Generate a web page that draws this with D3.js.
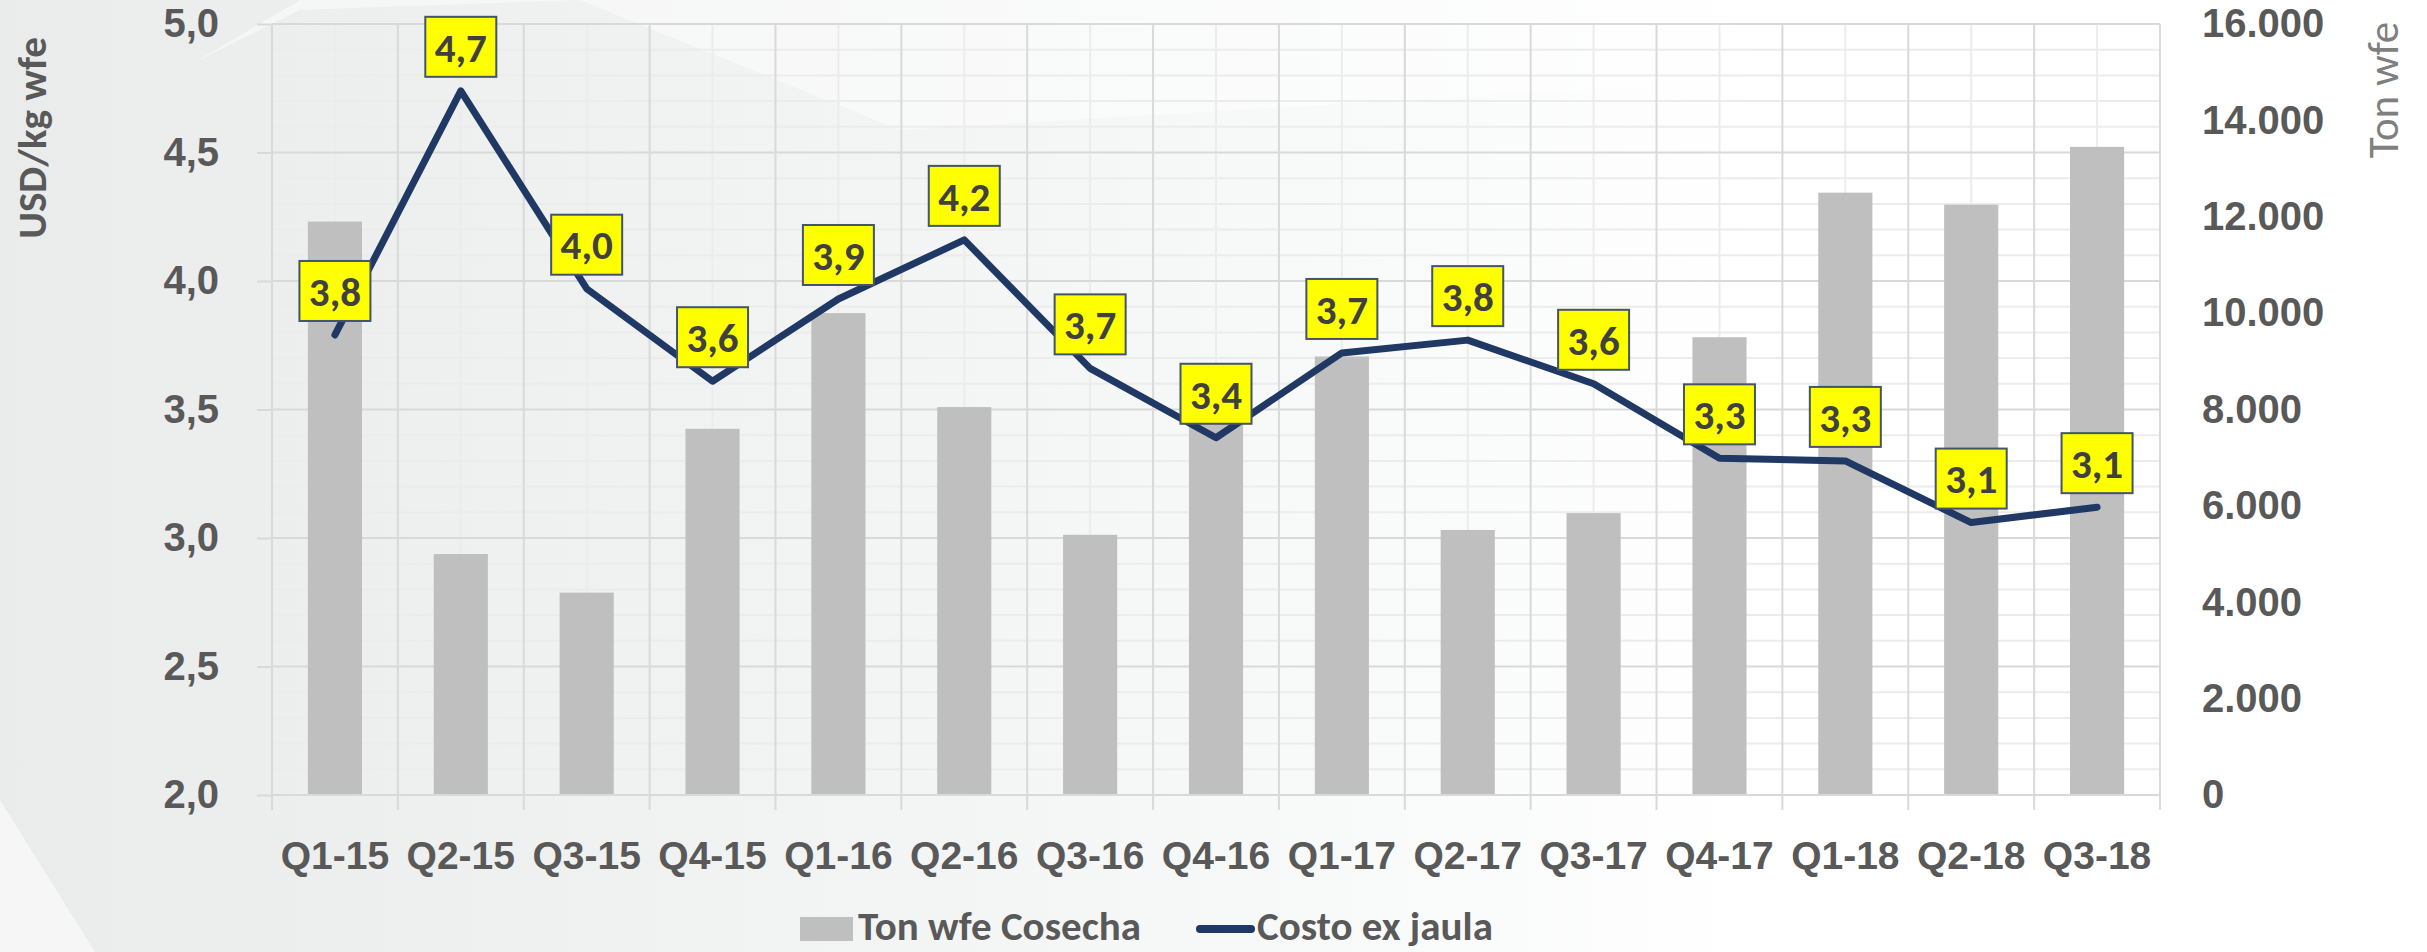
<!DOCTYPE html>
<html>
<head>
<meta charset="utf-8">
<script src="https://cdn.jsdelivr.net/npm/d3@7"></script>
<style>
  html, body { margin: 0; padding: 0; background: #fff; }
  svg { display: block; font-family: Carlito, Lato, "Open Sans", sans-serif; }
</style>
</head>
<body>
<div id="chart"></div>
<script>
"use strict";

const categories = ['Q1-15', 'Q2-15', 'Q3-15', 'Q4-15', 'Q1-16', 'Q2-16', 'Q3-16', 'Q4-16',
  'Q1-17', 'Q2-17', 'Q3-17', 'Q4-17', 'Q1-18', 'Q2-18', 'Q3-18']

// Ton wfe Cosecha (right axis)
const tonCosecha = [11900, 5000, 4200, 7600, 10000, 8050, 5400, 7800,
  9100, 5500, 5850, 9500, 12500, 12250, 13450]

// Costo ex jaula, USD/kg wfe (left axis)
const costoExJaula = [3.79, 4.74, 3.97, 3.61, 3.93, 4.16, 3.66, 3.39,
  3.72, 3.77, 3.60, 3.31, 3.30, 3.06, 3.12]

const leftTicks = [2.0, 2.5, 3.0, 3.5, 4.0, 4.5, 5.0]
const rightTicks = [0, 2000, 4000, 6000, 8000, 10000, 12000, 14000, 16000]
const seriesNames = ['Ton wfe Cosecha', 'Costo ex jaula']

const W = 2427, H = 952
const plot = { left: 272, right: 2160, top: 24, bottom: 795 }

const C = {
  text: '#595959',
  label: '#404040',
  bar: '#bfbfbf',
  line: '#1f3864',
  grid: '#d9d9d9',
  gridMinor: '#ececec',
}

const locale = d3.formatLocale({ decimal: ',', thousands: '.', grouping: [3], currency: ['$', ''] })
const f1 = locale.format('.1f')
const fThousands = locale.format(',.0f')

const svg = d3.select('#chart').append('svg')
  .attr('width', W)
  .attr('height', H)

// background: slide-like grey fading to white
const defs = svg.append('defs')
const bg = defs.append('linearGradient').attr('id', 'bg')
  .attr('x1', 0).attr('x2', 1).attr('y1', 0).attr('y2', 0)
bg.append('stop').attr('offset', 0).attr('stop-color', '#eaebeb')
bg.append('stop').attr('offset', 0.3).attr('stop-color', '#f1f2f2')
bg.append('stop').attr('offset', 0.55).attr('stop-color', '#f8f9f9')
bg.append('stop').attr('offset', 0.72).attr('stop-color', '#ffffff')
bg.append('stop').attr('offset', 1).attr('stop-color', '#ffffff')

svg.append('rect').attr('width', W).attr('height', H).attr('fill', 'url(#bg)')

// soft light wedge at the top and lighter corner bottom-left
svg.append('path')
  .attr('d', 'M195,62 L300,0 L2427,0 L2427,40 L900,130 L580,0 L300,10 Z')
  .attr('fill', '#ffffff').attr('opacity', 0.45)
svg.append('path')
  .attr('d', 'M0,800 L95,952 L0,952 Z')
  .attr('fill', '#f6f6f6')

const x = d3.scaleBand()
  .domain(categories)
  .range([plot.left, plot.right])
  .padding(0)

const yL = d3.scaleLinear().domain([2, 5]).range([plot.bottom, plot.top])
const yR = d3.scaleLinear().domain([0, 16000]).range([plot.bottom, plot.top])

const g = svg.append('g')

// minor grid
const minorY = d3.range(2, 5.001, 0.1).filter(v => Math.abs(v * 2 - Math.round(v * 2)) > 1e-6)
g.append('g').selectAll('line').data(minorY).join('line')
  .attr('x1', plot.left).attr('x2', plot.right)
  .attr('y1', d => yL(d)).attr('y2', d => yL(d))
  .attr('stroke', C.gridMinor).attr('stroke-width', 2)

g.append('g').selectAll('line').data(categories).join('line')
  .attr('x1', d => x(d) + x.bandwidth() / 2).attr('x2', d => x(d) + x.bandwidth() / 2)
  .attr('y1', plot.top).attr('y2', plot.bottom)
  .attr('stroke', C.gridMinor).attr('stroke-width', 2)

// major grid
g.append('g').selectAll('line').data(leftTicks).join('line')
  .attr('x1', plot.left).attr('x2', plot.right)
  .attr('y1', d => yL(d)).attr('y2', d => yL(d))
  .attr('stroke', C.grid).attr('stroke-width', 2)

const bounds = categories.map(c => x(c)).concat([plot.right])
g.append('g').selectAll('line').data(bounds).join('line')
  .attr('x1', d => d).attr('x2', d => d)
  .attr('y1', plot.top).attr('y2', plot.bottom)
  .attr('stroke', C.grid).attr('stroke-width', 2)

// bars
const barW = x.bandwidth() * 0.43
g.append('g').selectAll('rect').data(tonCosecha).join('rect')
  .attr('x', (d, i) => x(categories[i]) + (x.bandwidth() - barW) / 2)
  .attr('y', d => yR(d))
  .attr('width', barW)
  .attr('height', d => plot.bottom - yR(d))
  .attr('fill', C.bar)

// axes
const axisL = d3.axisLeft(yL).tickValues(leftTicks).tickFormat(f1).tickSize(15).tickPadding(38)
const gL = svg.append('g').attr('transform', `translate(${plot.left},0)`).call(axisL)
gL.select('.domain').remove()
gL.selectAll('.tick line').attr('stroke', C.grid).attr('stroke-width', 2)

const axisR = d3.axisRight(yR).tickValues(rightTicks).tickFormat(fThousands).tickSize(0).tickPadding(42)
const gR = svg.append('g').attr('transform', `translate(${plot.right},0)`).call(axisR)
gR.select('.domain').remove()

const axisB = d3.axisBottom(x).tickSize(0).tickPadding(46)
const gB = svg.append('g').attr('transform', `translate(0,${plot.bottom})`).call(axisB)
gB.select('.domain').attr('stroke', C.grid).attr('stroke-width', 2)
  .attr('d', `M${plot.left},0H${plot.right}`)
gB.append('g').selectAll('line').data(bounds).join('line')
  .attr('x1', d => d).attr('x2', d => d)
  .attr('y1', 0).attr('y2', 15)
  .attr('stroke', C.grid).attr('stroke-width', 2)

svg.selectAll('.tick text')
  .attr('fill', C.text)
  .style('font-size', '40px')
  .style('font-weight', 700)
gB.selectAll('.tick text').style('font-size', '39px')

// axis titles
svg.append('text')
  .attr('transform', 'translate(46,138) rotate(-90)')
  .attr('text-anchor', 'middle')
  .attr('fill', C.text)
  .style('font-size', '41px').style('font-weight', 700)
  .text('USD/kg wfe')

svg.append('text')
  .attr('transform', 'translate(2398,90) rotate(-90)')
  .attr('text-anchor', 'middle')
  .attr('fill', '#7f7f7f')
  .style('font-size', '43px').style('font-weight', 400)
  .text('Ton wfe')

// line
const cx = i => x(categories[i]) + x.bandwidth() / 2
const line = d3.line().x((d, i) => cx(i)).y(d => yL(d))
g.append('path')
  .datum(costoExJaula)
  .attr('d', line)
  .attr('fill', 'none')
  .attr('stroke', C.line)
  .attr('stroke-width', 7)
  .attr('stroke-linejoin', 'round')
  .attr('stroke-linecap', 'round')

// data labels
const boxW = 71, boxH = 60, gap = 14
const lab = g.append('g').selectAll('g').data(costoExJaula).join('g')
  .attr('transform', (d, i) => `translate(${cx(i)},${yL(d) - gap - boxH})`)
lab.append('rect')
  .attr('x', -boxW / 2).attr('y', 0)
  .attr('width', boxW).attr('height', boxH)
  .attr('fill', '#ffff00')
  .attr('stroke', '#44546a').attr('stroke-width', 2)
lab.append('text')
  .attr('x', 0).attr('y', boxH / 2)
  .attr('dy', '0.36em')
  .attr('text-anchor', 'middle')
  .attr('fill', C.label)
  .style('font-size', '41px').style('font-weight', 700)
  .text(d => f1(d))

// legend
const leg = svg.append('g')
leg.append('rect')
  .attr('x', 800).attr('y', 917).attr('width', 53).attr('height', 24)
  .attr('fill', C.bar)
leg.append('text')
  .attr('x', 858).attr('y', 940)
  .attr('fill', C.text)
  .style('font-size', '41px').style('font-weight', 700)
  .text(seriesNames[0])
leg.append('line')
  .attr('x1', 1200).attr('x2', 1251).attr('y1', 929).attr('y2', 929)
  .attr('stroke', C.line).attr('stroke-width', 8).attr('stroke-linecap', 'round')
leg.append('text')
  .attr('x', 1257).attr('y', 940)
  .attr('fill', C.text)
  .style('font-size', '41px').style('font-weight', 700)
  .text(seriesNames[1])
</script>
</body>
</html>
